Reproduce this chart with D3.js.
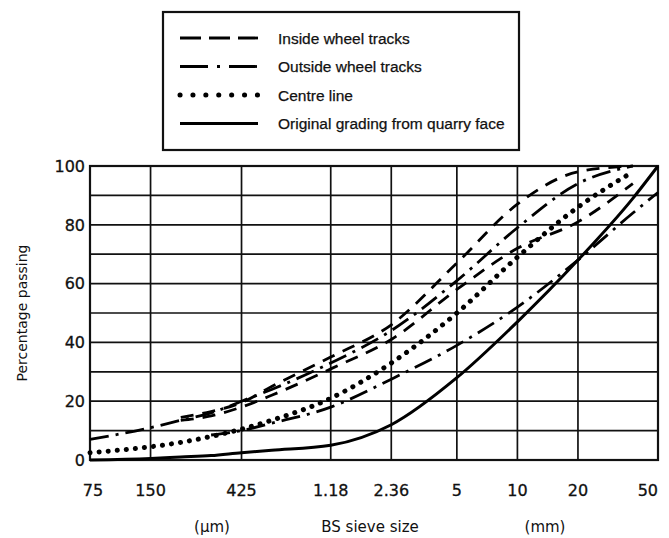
<!DOCTYPE html>
<meta charset="utf-8">
<script src="https://d3js.org/d3.v7.min.js"></script>
<style>
  body { margin: 0; background: #fff; }
  text { font-family: "DejaVu Sans", sans-serif; fill: #111; }
</style>
<div id="chart"></div>
<script>

  // sieve sizes in mm (log axis)
  var sieveSizes = [0.075, 0.15, 0.212, 0.3, 0.425, 0.6, 1.18, 2.36, 5, 10, 20, 37.5, 50];
  var tickSizes = [0.075, 0.15, 0.425, 1.18, 2.36, 5, 10, 20, 50];
  var tickLabels = ["75", "150", "425", "1.18", "2.36", "5", "10", "20", "50"];
  var yTicks = [0, 20, 40, 60, 80, 100];

  // percentage passing
  var insideUpper = [null, null, 14.5, 16.5, 19.5, 25, 35, 46, 67, 87, 98, 100, null];
  var insideLower = [null, null, 13.5, 15, 18, 22, 31, 41, 58, 72, 81, 94, null];
  var outsideUpper = [7, 11, 13.5, 16, 20, 24, 33, 44, 61, 79, 94, 100, null];
  var outsideLower = [null, null, null, 8.5, 10, 12.5, 18, 27.5, 39, 52, 68, 84, 91];
  var centreLine = [2.5, 4.5, 6, 8, 10.5, 13.5, 21, 33, 50, 69, 86, 98, null];
  var originalGrading = [0, 0.5, 1, 1.5, 2.5, 3.3, 5, 12, 28, 47, 68, 89, 100];

  var legendNames = ["Inside wheel tracks", "Outside wheel tracks", "Centre line", "Original grading from quarry face"];

  var styles = {
    dashed: { dash: "13 9", width: 2.8, cap: "butt", legendDash: "21 8" },
    dashdot: { dash: "19 7 3 7", width: 2.8, cap: "butt", legendDash: "28 9 3 9" },
    dotted: { dash: "0.1 9", width: 5, cap: "round", legendDash: "0.1 12.8" },
    solid: { dash: null, width: 3, cap: "butt", legendDash: null }
  };

  var series = [
    { values: insideUpper, style: "dashed" },
    { values: insideLower, style: "dashed" },
    { values: outsideUpper, style: "dashdot" },
    { values: outsideLower, style: "dashdot" },
    { values: centreLine, style: "dotted" },
    { values: originalGrading, style: "solid" }
  ];
  var legendStyles = ["dashed", "dashdot", "dotted", "solid"];

  var margin = { top: 166, right: 11, bottom: 78, left: 90 },
    width = 669 - margin.left - margin.right,
    height = 538 - margin.top - margin.bottom;

  var svg = d3.select("#chart")
    .append("svg")
    .attr("width", 669)
    .attr("height", 538);

  var g = svg.append("g")
    .attr("transform", "translate(" + margin.left + "," + margin.top + ")");

  var x = d3.scaleLog().domain([0.075, 50]).range([0, width]);
  var y = d3.scaleLinear().domain([0, 100]).range([height, 0]);

  // grid
  g.selectAll(".hgrid")
    .data(d3.range(0, 101, 10))
    .enter().append("line")
    .attr("x1", 0).attr("x2", width)
    .attr("y1", function (d) { return y(d); })
    .attr("y2", function (d) { return y(d); })
    .attr("stroke", "#111").attr("stroke-width", 1.7);

  g.selectAll(".vgrid")
    .data(tickSizes)
    .enter().append("line")
    .attr("x1", function (d) { return x(d); })
    .attr("x2", function (d) { return x(d); })
    .attr("y1", 0).attr("y2", height)
    .attr("stroke", "#111").attr("stroke-width", 1.7);

  g.append("rect")
    .attr("width", width).attr("height", height)
    .attr("fill", "none").attr("stroke", "#111").attr("stroke-width", 2.2);

  // y axis labels
  g.selectAll(".ylab")
    .data(yTicks)
    .enter().append("text")
    .attr("x", -5)
    .attr("y", function (d) { return y(d); })
    .attr("dy", "0.36em")
    .attr("text-anchor", "end")
    .style("font-size", "16px")
    .style("stroke", "#111").style("stroke-width", 0.3)
    .text(function (d) { return d; });

  // x axis labels
  g.selectAll(".xlab")
    .data(tickSizes)
    .enter().append("text")
    .attr("x", function (d, i) { return x(d) + (i == 0 ? 3 : 0); })
    .attr("y", height + 36)
    .attr("text-anchor", function (d, i) { return i == tickSizes.length - 1 ? "end" : "middle"; })
    .style("font-size", "16px")
    .style("stroke", "#111").style("stroke-width", 0.3)
    .text(function (d, i) { return tickLabels[i]; });

  svg.append("text").attr("x", 212).attr("y", 532).attr("text-anchor", "middle")
    .style("font-size", "15px").text("(\u03bcm)");
  svg.append("text").attr("x", 370).attr("y", 532).attr("text-anchor", "middle")
    .style("font-size", "15px").text("BS sieve size");
  svg.append("text").attr("x", 545).attr("y", 532).attr("text-anchor", "middle")
    .style("font-size", "15px").text("(mm)");

  svg.append("text")
    .attr("transform", "translate(27," + (margin.top + height / 2) + ") rotate(-90)")
    .attr("text-anchor", "middle")
    .style("font-size", "14px")
    .text("Percentage passing");

  // curves
  var line = d3.line()
    .defined(function (d) { return d.v != null; })
    .x(function (d) { return x(d.size); })
    .y(function (d) { return y(d.v); })
    .curve(d3.curveMonotoneX);

  series.forEach(function (s) {
    var st = styles[s.style];
    var pts = sieveSizes.map(function (size, i) { return { size: size, v: s.values[i] }; });
    g.append("path")
      .datum(pts)
      .attr("fill", "none")
      .attr("stroke", "#000")
      .attr("stroke-width", st.width)
      .attr("stroke-linecap", st.cap)
      .attr("stroke-dasharray", st.dash)
      .attr("d", line);
  });

  // legend
  var legend = svg.append("g");
  legend.append("rect")
    .attr("x", 163).attr("y", 12)
    .attr("width", 356).attr("height", 138)
    .attr("fill", "#fff").attr("stroke", "#111").attr("stroke-width", 2.2);

  legendNames.forEach(function (name, i) {
    var st = styles[legendStyles[i]];
    var ly = 38 + i * 28.5;
    legend.append("line")
      .attr("x1", 180).attr("x2", 258)
      .attr("y1", ly).attr("y2", ly)
      .attr("stroke", "#000")
      .attr("stroke-width", st.width)
      .attr("stroke-linecap", st.cap)
      .attr("stroke-dasharray", st.legendDash);
    legend.append("text")
      .attr("x", 278).attr("y", ly)
      .attr("dy", "0.36em")
      .style("font-family", "'Liberation Sans', Arial, sans-serif")
      .style("font-size", "15.5px")
      .style("stroke", "#111").style("stroke-width", 0.25)
      .text(name);
  });

</script>
